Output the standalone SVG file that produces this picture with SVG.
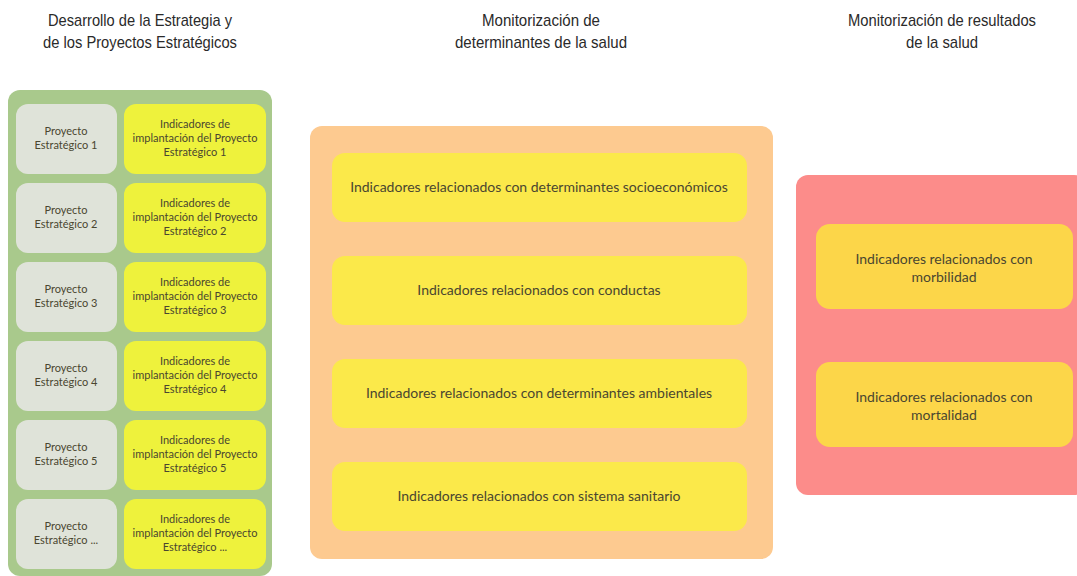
<svg xmlns="http://www.w3.org/2000/svg" width="1077" height="576" viewBox="0 0 1077 576">
<style>
.title{font-family:"Liberation Sans",Arial,sans-serif;font-size:17px;fill:#2a2a2a;text-anchor:middle}
.t{font-family:Lato,"Open Sans",sans-serif;fill:#4a4630;text-anchor:middle}
.s{font-size:11px}
.m{font-size:14px}
.gray{fill:#dfe3d9}
.lime{fill:#eef23c}
.yel{fill:#fbe94a}
.gold{fill:#fcd649}
</style>
<rect width="1077" height="576" fill="#ffffff"/>
<g id="titles">
<text class="title" x="140" y="26" textLength="184" lengthAdjust="spacingAndGlyphs">Desarrollo de la Estrategia y</text>
<text class="title" x="140" y="48" textLength="194" lengthAdjust="spacingAndGlyphs">de los Proyectos Estratégicos</text>
<text class="title" x="541" y="26" textLength="118" lengthAdjust="spacingAndGlyphs">Monitorización de</text>
<text class="title" x="541" y="48" textLength="172" lengthAdjust="spacingAndGlyphs">determinantes de la salud</text>
<text class="title" x="942" y="26" textLength="188" lengthAdjust="spacingAndGlyphs">Monitorización de resultados</text>
<text class="title" x="942" y="48" textLength="72" lengthAdjust="spacingAndGlyphs">de la salud</text>
</g>
<g id="group-estrategia">
<rect x="8" y="90" width="264" height="486" rx="12" fill="#a9c98c"/>
</g>
<g id="p1"><rect class="gray" x="16" y="104" width="101" height="70" rx="12"/><text class="t s" x="66" y="135">Proyecto</text><text class="t s" x="66" y="149">Estratégico 1</text></g>
<g id="i1"><rect class="lime" x="124" y="104" width="142" height="70" rx="12"/><text class="t s" x="195" y="128">Indicadores de</text><text class="t s" x="195" y="142">implantación del Proyecto</text><text class="t s" x="195" y="156">Estratégico 1</text></g>
<g id="p2"><rect class="gray" x="16" y="183" width="101" height="70" rx="12"/><text class="t s" x="66" y="214">Proyecto</text><text class="t s" x="66" y="228">Estratégico 2</text></g>
<g id="i2"><rect class="lime" x="124" y="183" width="142" height="70" rx="12"/><text class="t s" x="195" y="207">Indicadores de</text><text class="t s" x="195" y="221">implantación del Proyecto</text><text class="t s" x="195" y="235">Estratégico 2</text></g>
<g id="p3"><rect class="gray" x="16" y="262" width="101" height="70" rx="12"/><text class="t s" x="66" y="293">Proyecto</text><text class="t s" x="66" y="307">Estratégico 3</text></g>
<g id="i3"><rect class="lime" x="124" y="262" width="142" height="70" rx="12"/><text class="t s" x="195" y="286">Indicadores de</text><text class="t s" x="195" y="300">implantación del Proyecto</text><text class="t s" x="195" y="314">Estratégico 3</text></g>
<g id="p4"><rect class="gray" x="16" y="341" width="101" height="70" rx="12"/><text class="t s" x="66" y="372">Proyecto</text><text class="t s" x="66" y="386">Estratégico 4</text></g>
<g id="i4"><rect class="lime" x="124" y="341" width="142" height="70" rx="12"/><text class="t s" x="195" y="365">Indicadores de</text><text class="t s" x="195" y="379">implantación del Proyecto</text><text class="t s" x="195" y="393">Estratégico 4</text></g>
<g id="p5"><rect class="gray" x="16" y="420" width="101" height="70" rx="12"/><text class="t s" x="66" y="451">Proyecto</text><text class="t s" x="66" y="465">Estratégico 5</text></g>
<g id="i5"><rect class="lime" x="124" y="420" width="142" height="70" rx="12"/><text class="t s" x="195" y="444">Indicadores de</text><text class="t s" x="195" y="458">implantación del Proyecto</text><text class="t s" x="195" y="472">Estratégico 5</text></g>
<g id="p6"><rect class="gray" x="16" y="499" width="101" height="70" rx="12"/><text class="t s" x="66" y="530">Proyecto</text><text class="t s" x="66" y="544">Estratégico ...</text></g>
<g id="i6"><rect class="lime" x="124" y="499" width="142" height="70" rx="12"/><text class="t s" x="195" y="523">Indicadores de</text><text class="t s" x="195" y="537">implantación del Proyecto</text><text class="t s" x="195" y="551">Estratégico ...</text></g>
<g id="group-determinantes">
<rect x="310" y="126" width="463" height="433" rx="12" fill="#fdca90"/>
</g>
<g id="d1"><rect class="yel" x="332" y="153" width="415" height="69" rx="13"/><text class="t m" x="539" y="192">Indicadores relacionados con determinantes socioeconómicos</text></g>
<g id="d2"><rect class="yel" x="332" y="256" width="415" height="69" rx="13"/><text class="t m" x="539" y="295">Indicadores relacionados con conductas</text></g>
<g id="d3"><rect class="yel" x="332" y="359" width="415" height="69" rx="13"/><text class="t m" x="539" y="398">Indicadores relacionados con determinantes ambientales</text></g>
<g id="d4"><rect class="yel" x="332" y="462" width="415" height="69" rx="13"/><text class="t m" x="539" y="501">Indicadores relacionados con sistema sanitario</text></g>
<g id="group-resultados">
<rect x="796" y="175" width="290" height="320" rx="12" fill="#fc8c8a"/>
</g>
<g id="r1"><rect class="gold" x="816" y="224" width="257" height="85" rx="14"/><text class="t m" x="944" y="264">Indicadores relacionados con</text><text class="t m" x="944" y="282">morbilidad</text></g>
<g id="r2"><rect class="gold" x="816" y="362" width="257" height="85" rx="14"/><text class="t m" x="944" y="402">Indicadores relacionados con</text><text class="t m" x="944" y="420">mortalidad</text></g>
<g id="connectors"></g>
</svg>
